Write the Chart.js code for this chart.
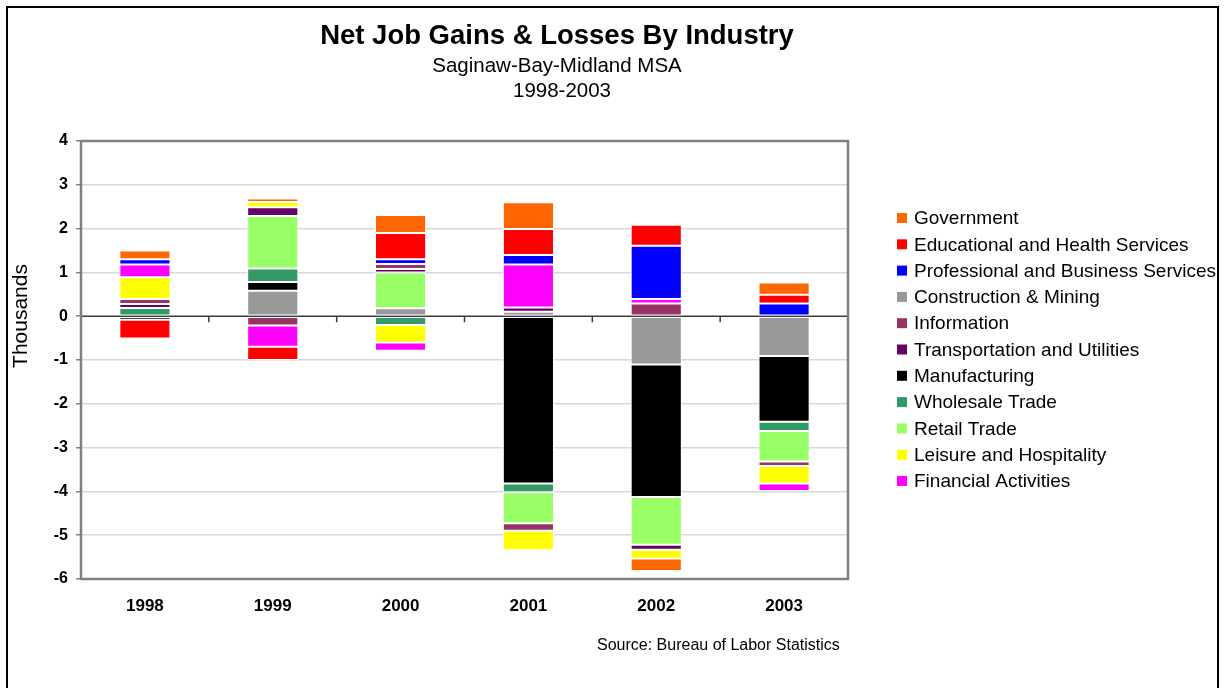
<!DOCTYPE html>
<html>
<head>
<meta charset="utf-8">
<title>Net Job Gains &amp; Losses By Industry</title>
<script src="https://cdn.jsdelivr.net/npm/chart.js@4.4.1/dist/chart.umd.min.js"></script>
<style>
  html, body { margin: 0; padding: 0; background: #fff; }
  #wrap { position: relative; width: 1224px; height: 688px; }
  canvas { display: block; }
</style>
</head>
<body>
<div id="wrap"><canvas id="chart" width="1224" height="688"></canvas></div>
<script>
// Years shown along the horizontal axis
const years = ['1998', '1999', '2000', '2001', '2002', '2003'];

// Net job change per industry (thousands), stacked bottom-up in this order
const construction   = [0,     0.58,  0.18,  0.1,   -1.1,  -0.91];
const manufacturing  = [-0.08, 0.2,   0,     -3.82, -3.03, -1.5];
const wholesale      = [0.19,  0.31,  -0.2,  -0.2,  0,     -0.21];
const retail         = [0,     1.2,   0.82,  -0.71, -1.09, -0.7];
const transportation = [0.09,  0.2,   0.08,  0.1,   -0.11, 0];
const information    = [0.11,  -0.21, 0.11,  -0.17, 0.29,  -0.1];
const leisure        = [0.5,   0.12,  -0.4,  -0.44, -0.2,  -0.4];
const financial      = [0.29,  -0.49, -0.19, 0.98,  0.1,   -0.17];
const professional   = [0.12,  0,     0.11,  0.22,  1.22,  0.29];
const education      = [-0.43, -0.3,  0.6,   0.59,  0.48,  0.2];
const government     = [0.2,   0.08,  0.41,  0.61,  -0.29, 0.28];

// Y axis range and labels
const yMin = -6, yMax = 4, yStep = 1;
const yTitle = 'Thousands';

const series = [
  { label: 'Construction & Mining',               data: construction,   color: '#999999' },
  { label: 'Manufacturing',                       data: manufacturing,  color: '#000000' },
  { label: 'Wholesale Trade',                     data: wholesale,      color: '#339966' },
  { label: 'Retail Trade',                        data: retail,         color: '#99FF66' },
  { label: 'Transportation and Utilities',        data: transportation, color: '#660066' },
  { label: 'Information',                         data: information,    color: '#993366' },
  { label: 'Leisure and Hospitality',             data: leisure,        color: '#FFFF00' },
  { label: 'Financial Activities',                data: financial,      color: '#FF00FF' },
  { label: 'Professional and Business Services',  data: professional,   color: '#0000FF' },
  { label: 'Educational and Health Services',     data: education,      color: '#FF0000' },
  { label: 'Government',                          data: government,     color: '#FF6600' }
];

// Order in which the legend lists the industries
const legendOrder = [
  'Government', 'Educational and Health Services', 'Professional and Business Services',
  'Construction & Mining', 'Information', 'Transportation and Utilities', 'Manufacturing',
  'Wholesale Trade', 'Retail Trade', 'Leisure and Hospitality', 'Financial Activities'
];

const FONT = '"Liberation Sans", Arial, Helvetica, sans-serif';

// Titles, source note, legend, frame and plot border
const decorations = {
  id: 'decorations',
  beforeDatasetsDraw(chart) {
    const { ctx, chartArea: a, scales } = chart;
    // zero line
    const y0 = scales.y.getPixelForValue(0);
    ctx.save();
    ctx.strokeStyle = '#3a3a3a';
    ctx.lineWidth = 1.5;
    ctx.beginPath();
    ctx.moveTo(a.left, y0);
    ctx.lineTo(a.right, y0);
    // category separators hanging under the zero line
    const xs = scales.x;
    for (let i = 0; i < years.length; i++) {
      const c = xs.getPixelForTick(i);
      const edge = i < years.length - 1 ? (c + xs.getPixelForTick(i + 1)) / 2 : c + (c - xs.getPixelForTick(i - 1)) / 2;
      ctx.moveTo(edge, y0);
      ctx.lineTo(edge, y0 + 6);
    }
    ctx.stroke();
    ctx.restore();
  },
  afterDraw(chart) {
    const { ctx, chartArea: a } = chart;
    ctx.save();
    // plot border
    ctx.strokeStyle = '#808080';
    ctx.lineWidth = 2.5;
    ctx.strokeRect(a.left, a.top, a.right - a.left, a.bottom - a.top);

    // outer frame
    ctx.strokeStyle = '#000';
    ctx.lineWidth = 2;
    ctx.beginPath();
    ctx.moveTo(7, 700);
    ctx.lineTo(7, 7);
    ctx.lineTo(1218, 7);
    ctx.lineTo(1218, 700);
    ctx.stroke();

    // titles
    ctx.fillStyle = '#000';
    ctx.textAlign = 'center';
    ctx.textBaseline = 'middle';
    ctx.font = 'bold 27.5px ' + FONT;
    ctx.fillText('Net Job Gains & Losses By Industry', 557, 36);
    ctx.font = '20.5px ' + FONT;
    ctx.fillText('Saginaw-Bay-Midland MSA', 557, 66);
    ctx.fillText('1998-2003', 562, 91);

    // vertical axis title
    ctx.save();
    ctx.translate(21, 316);
    ctx.rotate(-Math.PI / 2);
    ctx.font = '21px ' + FONT;
    ctx.fillText(yTitle, 0, 0);
    ctx.restore();

    // source note
    ctx.font = '16px ' + FONT;
    ctx.textAlign = 'left';
    ctx.fillText('Source: Bureau of Labor Statistics', 597, 646);

    // legend
    ctx.font = '19px ' + FONT;
    legendOrder.forEach((name, i) => {
      const ds = chart.data.datasets.find(d => d.label === name);
      const y = 218 + i * 26.3;
      ctx.fillStyle = ds.backgroundColor;
      ctx.fillRect(897, y - 5, 10, 10);
      ctx.fillStyle = '#000';
      ctx.fillText(name, 914, y + 1);
    });
    ctx.restore();
  }
};

new Chart(document.getElementById('chart'), {
  type: 'bar',
  data: {
    labels: years,
    datasets: series.map(s => ({
      label: s.label,
      data: s.data,
      backgroundColor: s.color,
      borderColor: '#ffffff',
      borderWidth: 1,
      borderSkipped: false,
      barPercentage: 0.4,
      categoryPercentage: 1.0
    }))
  },
  options: {
    responsive: false,
    animation: false,
    layout: { padding: { left: 0, right: 376, top: 141, bottom: 0 } },
    plugins: {
      legend: { display: false },
      title: { display: false },
      tooltip: { enabled: false }
    },
    scales: {
      x: {
        stacked: true,
        grid: { display: false, drawTicks: false },
        border: { display: false },
        ticks: { color: '#000', font: { family: FONT, size: 17, weight: 'bold' }, padding: 17 },
        afterFit(scale) { scale.height = 109; }
      },
      y: {
        stacked: true,
        min: yMin,
        max: yMax,
        ticks: {
          stepSize: yStep,
          color: '#000',
          font: { family: FONT, size: 16, weight: 'bold' },
          padding: 8
        },
        grid: {
          color: ctx => ctx.tick && ctx.tick.value === 0 ? 'rgba(0,0,0,0)' : '#d9d9d9',
          lineWidth: 1.5,
          tickLength: 5,
          tickColor: '#808080'
        },
        border: { display: false },
        title: { display: false },
        afterFit(scale) { scale.width = 81; }
      }
    }
  },
  plugins: [decorations]
});
</script>
</body>
</html>
